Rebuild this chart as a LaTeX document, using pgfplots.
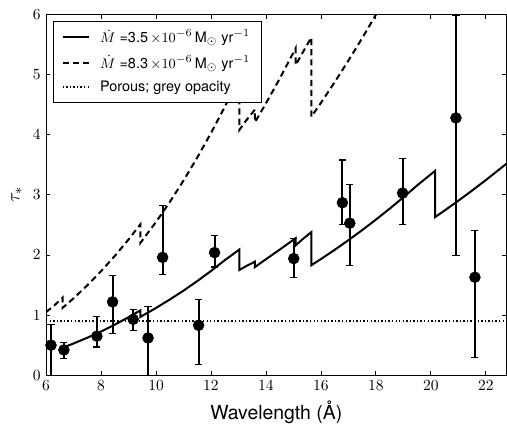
\documentclass[border=0pt]{standalone}
\usepackage{pgfplots}
\pgfplotsset{compat=1.18}
\usepackage{fontspec}
\setmainfont{TeX Gyre Heros}

\pgfplotstableread{
x y ep em
6.18 0.50 0.34 0.70
6.65 0.42 0.13 0.14
7.85 0.65 0.32 0.18
8.42 1.22 0.44 0.53
9.17 0.93 0.16 0.19
9.71 0.62 0.52 0.70
10.24 1.96 0.87 0.28
11.55 0.83 0.43 0.65
12.13 2.04 0.28 0.24
15.01 1.94 0.33 0.31
16.78 2.87 0.71 0.37
17.05 2.53 0.64 0.70
18.97 3.03 0.57 0.52
20.91 4.28 1.70 2.29
21.60 1.63 0.78 1.34
}\obsdata

\begin{document}
\begin{tikzpicture}
\begin{axis}[
  scale only axis, width=297pt, height=232.6pt,
  xmin=6, xmax=22.75, ymin=0, ymax=6,
  xtick={6,8,...,22}, ytick={0,1,...,6},
  tick align=inside, major tick length=2.8pt,
  axis line style={line width=0.6pt},
  tick style={line width=0.6pt, black},
  tick label style={font=\fontsize{10}{12}\selectfont},
  xlabel={Wavelength (Å)}, ylabel={$\tau_*$},
  label style={font=\fontsize{12.5}{14}\selectfont},
  legend style={at={(axis description cs:0.016,0.983)}, anchor=north west,
    draw=black, line width=0.6pt, font=\fontsize{9.3}{11}\selectfont,
    row sep=2.6pt, inner xsep=5pt, inner ysep=3.5pt},
  legend cell align=left,
]
\addplot[black, line width=1.3pt] coordinates {
(6.67,0.47)(7.0,0.528)(7.5,0.623)(8.0,0.727)(8.5,0.841)(9.0,0.965)(9.43,1.078)
(9.43,0.97)(10,1.119)(10.5,1.259)(11,1.407)(11.5,1.566)(12,1.734)(12.5,1.913)(13.03,2.09)
(13.03,1.75)(13.3,1.82)(13.6,1.89)
(13.6,1.80)(14,1.93)(14.5,2.09)(15.08,2.28)
(15.08,2.16)(15.35,2.27)(15.65,2.38)
(15.65,1.83)(16,1.933)(16.5,2.086)(17,2.247)(17.5,2.414)(18,2.589)(18.5,2.771)(19,2.961)(19.5,3.158)(20.15,3.40)
(20.15,2.63)(20.5,2.741)(21,2.904)(21.5,3.073)(22,3.247)(22.75,3.52)
};
\addlegendentry{\hspace*{4.5pt}$\dot{M}$ =3.5\,$\times10^{-6}$\,M$_\odot$ yr$^{-1}$}
\addplot[black, line width=1.3pt, dash pattern=on 4pt off 2.6pt] coordinates {
(6.0,1.05)(6.3,1.16)(6.6,1.29)
(6.6,1.12)(7.0,1.279)(7.5,1.495)(8.0,1.730)(8.5,1.984)(9.0,2.258)(9.43,2.51)
(9.43,2.20)(10,2.549)(10.5,2.881)(11,3.238)(11.5,3.621)(12,4.029)(12.5,4.464)(13.03,4.95)
(13.03,4.08)(13.3,4.25)(13.6,4.42)
(13.6,4.21)(14,4.524)(14.5,4.935)(15.08,5.44)
(15.08,5.16)(15.35,5.38)(15.65,5.62)
(15.65,4.30)(16,4.532)(16.5,4.877)(17,5.236)(17.5,5.609)(18,5.998)(18.5,6.40)
};
\addlegendentry{\hspace*{4.5pt}$\dot{M}$ =8.3\,$\times10^{-6}$\,M$_\odot$ yr$^{-1}$}
\addplot[black, line width=0.9pt, dash pattern=on 0.9pt off 1.4pt] coordinates {(6,0.9)(22.75,0.9)};
\addlegendentry{\hspace*{4.5pt}Porous; grey opacity}
\addplot[black, only marks, mark=*, mark size=3.5pt, forget plot,
  error bars/.cd, y dir=both, y explicit,
  error bar style={line width=1.3pt},
  error mark options={rotate=90, mark size=2.3pt, line width=0.7pt}]
  table[x=x, y=y, y error plus=ep, y error minus=em] {\obsdata};
\end{axis}
\pgfresetboundingbox
\path ([shift={(-29.7pt,-31pt)}]current axis.south west) rectangle ([shift={(0.3pt,9.4pt)}]current axis.north east);
\end{tikzpicture}
\end{document}
